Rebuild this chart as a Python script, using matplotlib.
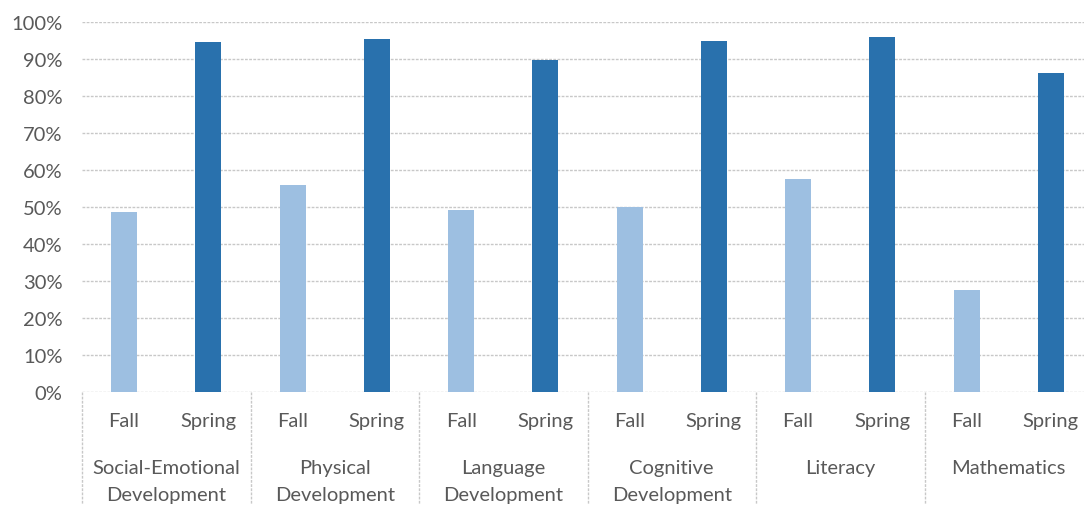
import numpy as np
import matplotlib.pyplot as plt
from matplotlib.lines import Line2D

domains = ["Social-Emotional\nDevelopment", "Physical\nDevelopment", "Language\nDevelopment",
           "Cognitive\nDevelopment", "Literacy", "Mathematics"]
seasons = ["Fall", "Spring"]
fall = [48.6, 55.9, 49.2, 50.1, 57.5, 27.7]
spring = [94.6, 95.5, 89.7, 94.9, 96.0, 86.1]

if __name__ == "__main__":
    plt.rcParams['font.family'] = ['Lato', 'DejaVu Sans']
    txt_col = "#595959"
    grid_col = "#c8c8c8"
    fs = 14.5

    fig = plt.figure(figsize=(10.84, 5.06), dpi=100)
    # plot area runs a little past the right edge of the picture, as in the reference
    ax = fig.add_axes([82/1084, 113/506, 1011/1084, 370/506])

    n = len(domains)
    x_fall = np.arange(n)*2
    x_spring = x_fall + 1
    ax.bar(x_fall, np.array(fall)/100, width=0.31, color="#9DBFE1", zorder=3)
    ax.bar(x_spring, np.array(spring)/100, width=0.31, color="#2971AD", zorder=3)

    ax.set_xlim(-0.5, 2*n - 0.5)
    ax.set_ylim(0, 1.0)
    ticks = np.arange(0, 1.01, 0.1)
    ax.set_yticks(ticks)
    ax.set_yticklabels(["{0}%".format(int(round(v*100))) for v in ticks])
    ax.tick_params(axis='y', length=0, pad=14, labelsize=fs, labelcolor=txt_col)
    ax.set_xticks([])
    for s in ax.spines.values():
        s.set_visible(False)
    ax.grid(axis='y', color=grid_col, linestyle=(0, (2, 1)), linewidth=1, zorder=0)

    trans = ax.get_xaxis_transform()
    for i in range(n):
        ax.text(x_fall[i], -0.078, seasons[0], transform=trans, ha='center', va='center',
                fontsize=fs, color=txt_col)
        ax.text(x_spring[i], -0.078, seasons[1], transform=trans, ha='center', va='center',
                fontsize=fs, color=txt_col)
        ax.text(x_fall[i] + 0.5, -0.18, domains[i], transform=trans, ha='center', va='top',
                fontsize=fs, color=txt_col, linespacing=1.75)
    for b in range(n + 1):
        ax.add_line(Line2D([2*b - 0.5, 2*b - 0.5], [0, -0.31], transform=trans, color=grid_col,
                           linestyle=(0, (2, 1)), linewidth=1, clip_on=False))

    plt.savefig("out.png", dpi=100)
